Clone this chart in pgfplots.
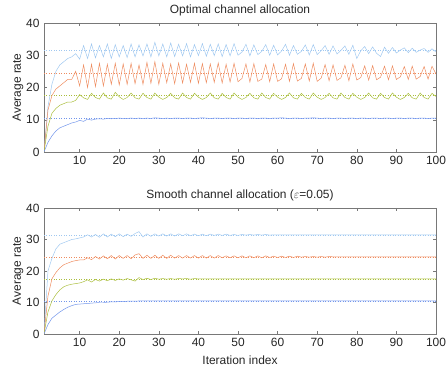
\documentclass[border=0pt]{standalone}
\usepackage{fontspec}
\setmainfont{Liberation Sans}
\usepackage{pgfplots}
\usepackage{pgfplotstable}
\pgfplotsset{compat=1.18}
\definecolor{clb}{RGB}{160,200,240}
\definecolor{cor}{RGB}{238,140,95}
\definecolor{cgr}{RGB}{170,190,60}
\definecolor{cbl}{RGB}{115,150,235}
\definecolor{cax}{RGB}{120,120,120}

\pgfplotstableread{
x lb or gr bl
1 0 0 0 0
2 14 13 8 3
3 21 17.5 12 5
4 25 19.5 13.5 6.5
5 27 20.5 14.5 7.5
6 28 21.5 15 8
7 29 22.5 15.5 8.5
8 29.5 22.5 15.5 9
9 30.5 25 16 9.3
10 28.8 20.5 17.8 9.8
11 33 27 16.8 9.5
12 29 20 16.3 10.2
13 33.5 27.2 18.2 9.9
14 29.2 20.3 16.9 10.2
15 33 27.5 16.4 10.3
16 29.5 20.5 18.3 10.2
17 33.5 27.2 16.8 10.4
18 29 21 16.4 10.3
19 33.3 27.5 18.5 10.4
20 29.5 20.8 17.1 10.5
21 33 27.3 16.3 10.4
22 29.3 21 16.9 10.4
23 33.5 27.5 18.3 10.5
24 29.5 21.2 16.8 10.4
25 33.2 27 16.4 10.5
26 29.8 21 18.2 10.4
27 33.5 27.8 16.9 10.5
28 29.5 21.3 16.4 10.4
29 34 28 18.3 10.6
30 29.8 21 17.0 10.5
31 33.5 27.5 16.3 10.4
32 29.5 21.5 16.9 10.5
33 33.8 27.3 18.2 10.4
34 29.6 21.2 16.8 10.5
35 33.4 27.6 16.4 10.5
36 29.8 21.4 18.3 10.4
37 33.6 27.2 16.9 10.5
38 29.5 21.6 16.4 10.5
39 33.3 27.5 18.2 10.4
40 29.9 21.3 17.0 10.5
41 33.6 27.4 16.3 10.6
42 29.7 21.5 16.9 10.5
43 33.4 27.3 18.3 10.4
44 29.9 21.6 16.8 10.5
45 33.5 27.6 16.4 10.5
46 29.6 21.4 18.2 10.4
47 33.3 27.2 16.9 10.5
48 29.8 21.7 16.4 10.5
49 33.6 27.5 18.3 10.4
50 30 21.8 17.0 10.5
51 31 22.8 16.3 10.5
52 33.4 27.3 16.9 10.4
53 29.8 21.7 18.2 10.5
54 33.2 27.4 16.8 10.5
55 30.2 21.9 16.4 10.4
56 31.2 22.6 18.3 10.5
57 33.3 27.1 16.9 10.5
58 30 21.8 16.4 10.4
59 33.1 27.3 18.2 10.5
60 30.1 21.9 17.0 10.5
61 31.3 22.7 16.3 10.6
62 33.4 27.2 16.9 10.5
63 30 21.9 18.3 10.4
64 33 27.4 16.8 10.5
65 30.3 22 16.4 10.5
66 31.2 22.8 18.2 10.4
67 33.2 27.3 16.9 10.5
68 30.1 22 16.4 10.5
69 33.3 27.5 18.3 10.6
70 30.2 21.9 17.0 10.5
71 31.4 22.9 16.3 10.4
72 33 27.1 16.9 10.5
73 30.3 22.1 18.2 10.5
74 32.9 27 16.8 10.4
75 30.4 22.2 16.4 10.5
76 31.5 23 18.3 10.5
77 32.9 26.9 16.9 10.4
78 30.3 22.1 16.4 10.5
79 33.1 27.3 18.2 10.5
80 29 22.3 17.0 10.4
81 31.4 23.1 16.3 10.5
82 32.7 26.7 16.9 10.5
83 30.5 22.3 18.3 10.4
84 32.6 26.8 16.8 10.5
85 30.6 22.4 16.4 10.5
86 29.6 23.2 18.2 10.4
87 32.5 26.6 16.9 10.5
88 30.6 22.4 16.4 10.5
89 32.4 26.7 18.3 10.4
90 30.7 22.5 17.0 10.5
91 31.6 23.3 16.3 10.5
92 32.3 26.5 16.9 10.4
93 30.8 22.5 18.2 10.5
94 32.2 26.6 16.8 10.5
95 30.9 22.6 16.4 10.4
96 31.6 23.4 18.3 10.5
97 32.1 26.5 16.9 10.5
98 30.9 22.6 16.4 10.4
99 32 26.6 18.2 10.5
100 31 24.2 17.2 10.5
}\toptab

\pgfplotstableread{
x lb or gr bl
1 0 0 0 0
2 20 12 7 3
3 24 17.5 10.5 5
4 27 19.5 12.5 6
5 28.5 21 14 7
6 29 22 15 7.8
7 29.5 22.5 15.5 8.5
8 30 23 15.8 9
9 30.2 23.3 16 9.4
10 30.5 23.5 16.2 9.5
11 30.8 23.5 16.6 9.6
12 31.5 24.2 17.2 9.7
13 30.8 23.6 16.5 9.8
14 31.6 24.6 17.3 9.9
15 30.7 23.8 16.8 10
16 31.8 24.8 17.4 10
17 30.8 23.9 16.9 10.1
18 31.7 24.9 17.5 10.2
19 30.9 23.8 17 10.2
20 31.8 24.9 17.5 10.3
21 30.9 24 17.1 10.3
22 31.7 24.9 17.6 10.4
23 31 23.9 17.2 10.4
24 31.9 25.1 16.8 10.4
25 32.5 25.5 17.9 10.5
26 30.8 24 17.3 10.5
27 31.8 25 17.7 10.5
28 31 24 17.3 10.5
29 31.8 25 17.7 10.5
30 31.1 24 17.4 10.5
31 31.8 25 17.6 10.5
32 31.1 24 17.4 10.5
33 31.8 25 17.6 10.5
34 31.1 24.1 17.4 10.5
35 31.8 24.9 17.6 10.5
36 31.2 24.1 17.5 10.5
37 31.8 24.9 17.6 10.5
38 31.2 24.1 17.4 10.5
39 31.7 24.9 17.6 10.5
40 31.2 24.1 17.5 10.5
41 31.7 24.9 17.5 10.5
42 31.2 24.1 17.5 10.5
43 31.7 24.9 17.5 10.5
44 31.3 24.1 17.5 10.5
45 31.7 24.9 17.5 10.5
46 31.3 24.2 17.5 10.5
47 31.7 24.8 17.5 10.5
48 31.3 24.2 17.5 10.5
49 31.6 24.8 17.5 10.5
50 31.3 24.2 17.5 10.5
51 31.6 24.8 17.5 10.5
52 31.4 24.2 17.5 10.5
53 31.6 24.8 17.5 10.5
54 31.4 24.2 17.5 10.5
55 31.6 24.8 17.5 10.5
56 31.4 24.2 17.5 10.5
57 31.6 24.8 17.5 10.5
58 31.4 24.3 17.5 10.5
59 31.5 24.7 17.5 10.5
60 31.5 24.3 17.5 10.5
61 31.5 24.7 17.5 10.5
62 31.5 24.3 17.5 10.5
63 31.5 24.7 17.5 10.5
64 31.5 24.3 17.5 10.5
65 31.5 24.7 17.5 10.5
66 31.5 24.4 17.5 10.5
67 31.5 24.6 17.5 10.5
68 31.5 24.4 17.5 10.5
69 31.5 24.6 17.5 10.5
70 31.5 24.4 17.5 10.5
71 31.5 24.6 17.5 10.5
72 31.5 24.4 17.5 10.5
73 31.5 24.6 17.5 10.5
74 31.5 24.5 17.5 10.5
75 31.5 24.5 17.5 10.5
80 31.5 24.5 17.5 10.5
85 31.5 24.5 17.5 10.5
90 31.5 24.5 17.5 10.5
95 31.5 24.5 17.5 10.5
100 31.5 24.5 17.5 10.5
}\bottab

\pgfplotsset{
  myax/.style={
    scale only axis, width=392bp,
    xmin=1, xmax=100, ymin=0, ymax=40,
    xtick={10,20,...,100}, ytick={0,10,...,40},
    tick align=inside, major tick length=3bp,
    axis line style={cax, line width=0.4pt},
    tick style={cax, line width=0.4pt},
    tick label style={font=\fontsize{12}{14}\selectfont, text=black!85},
    /pgf/number format/assume math mode=true,
    label style={font=\fontsize{12}{14}\selectfont, text=black!85},
    title style={font=\fontsize{12}{14}\selectfont, text=black!85, yshift=-2bp},
    ylabel={Average rate},
    ylabel style={yshift=-4bp},
    xticklabel style={yshift=-1bp},
    yticklabel style={xshift=-1bp},
    xlabel style={yshift=-2bp},
    every axis plot/.append style={line width=0.5pt},
  }
}

\begin{document}
\begin{tikzpicture}
\useasboundingbox (0,0) rectangle (447bp,368bp);
\begin{axis}[myax, height=129bp, at={(44bp,216bp)}, anchor=south west,
  title={Optimal channel allocation}]
  \addplot[clb, dotted] coordinates {(1,31.5) (100,31.5)};
  \addplot[cor, dotted] coordinates {(1,24.5) (100,24.5)};
  \addplot[cgr, dotted] coordinates {(1,17.5) (100,17.5)};
  \addplot[cbl, dotted] coordinates {(1,10.5) (100,10.5)};
  \addplot[clb] table[x=x, y=lb] {\toptab};
  \addplot[cor] table[x=x, y=or] {\toptab};
  \addplot[cgr] table[x=x, y=gr] {\toptab};
  \addplot[cbl] table[x=x, y=bl] {\toptab};
\end{axis}
\begin{axis}[myax, height=126bp, at={(44bp,34bp)}, anchor=south west,
  title={Smooth channel allocation ($\varepsilon$=0.05)},
  xlabel={Iteration index}]
  \addplot[clb, dotted] coordinates {(1,31.5) (100,31.5)};
  \addplot[cor, dotted] coordinates {(1,24.5) (100,24.5)};
  \addplot[cgr, dotted] coordinates {(1,17.5) (100,17.5)};
  \addplot[cbl, dotted] coordinates {(1,10.5) (100,10.5)};
  \addplot[clb] table[x=x, y=lb] {\bottab};
  \addplot[cor] table[x=x, y=or] {\bottab};
  \addplot[cgr] table[x=x, y=gr] {\bottab};
  \addplot[cbl] table[x=x, y=bl] {\bottab};
\end{axis}
\end{tikzpicture}
\end{document}
